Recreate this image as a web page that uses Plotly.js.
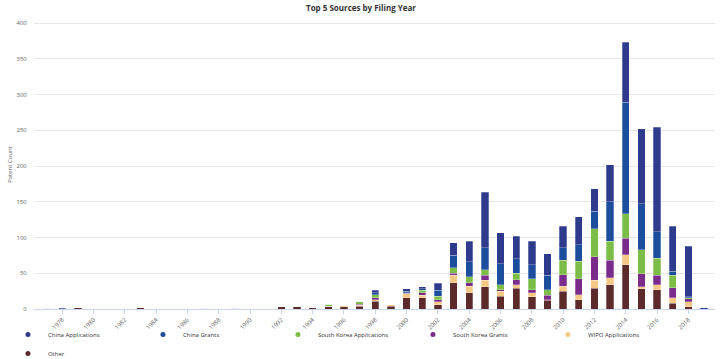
<!DOCTYPE html>
<html>
<head>
<meta charset="utf-8">
<script src="https://cdn.plot.ly/plotly-3.0.1.min.js"></script>
<style>html,body{margin:0;padding:0;background:#fff;}#chart{width:722px;height:359px;}</style>
</head>
<body>
<div id="chart"></div>
<script>
// Filing years that have at least one patent
var years = [1977,1978,1979,1983,1987,1988,1989,
  1992,1993,1994,1995,1996,1997,1998,1999,2000,2001,2002,2003,2004,2005,
  2006,2007,2008,2009,2010,2011,2012,2013,2014,2015,2016,2017,2018,2019];

var chinaApplications = [0,1,0,0,0,0,0,
  0,0,0,0,0,0,3,0,3,3,10,18,29,77,44,32,33,30,30,39,31,52,84,105,146,63,71,2];
var chinaGrants = [0,0,0,0,0,0,0,
  0,0,0,0,0,0,3,0,2,2,8,17,21,31,29,20,20,20,18,23,25,55,156,64,37,6,1,0];
var southKoreaApplications = [0,0,0,0,0,0,0,
  0,0,0,3,0,3,4,0,1,3,5,8,8,8,7,9,15,8,20,25,39,27,34,34,24,17,2,0];
var southKoreaGrants = [1,0,0,0,1,0,1,
  0,0,0,0,0,2,3,0,1,4,3,3,5,7,2,7,4,6,16,22,33,24,23,18,13,14,4,0];
var wipoApplications = [0,0,0,0,0,1,0,
  0,1,0,0,2,1,2,2,5,3,4,10,9,9,7,5,6,1,7,7,11,10,14,3,7,8,7,0];
var other = [0,0,2,2,0,0,0,
  3,3,2,4,3,4,11,4,16,16,6,37,23,31,18,29,17,12,25,13,29,34,62,28,27,8,3,0];

var seriesNames = ['Other','WIPO Applications','South Korea Grants','South Korea Applications','China Grants','China Applications'];
var seriesValues = [other, wipoApplications, southKoreaGrants, southKoreaApplications, chinaGrants, chinaApplications];
var seriesColors = ['#5d2a2c','#f6c886','#7b2b8c','#7bbd46','#1d4e9e','#2e3a8c'];

var traces = seriesNames.map(function(n, i){
  return {
    type: 'bar', name: n, x: years, y: seriesValues[i],
    marker: {color: seriesColors[i], line: {color: 'rgba(255,255,255,0.55)', width: 0.5}},
    showlegend: false, hoverinfo: 'x+y+name'
  };
});
// legend entries with circle symbols
seriesNames.forEach(function(n, i){
  traces.push({
    type: 'scatter', mode: 'markers', name: n, x: [null], y: [null],
    marker: {color: seriesColors[i], size: 5, symbol: 'circle'},
    showlegend: true, hoverinfo: 'skip'
  });
});

var layout = {
  width: 722, height: 359,
  margin: {l: 34, r: 7, t: 20, b: 50},
  paper_bgcolor: '#fff', plot_bgcolor: '#fff',
  font: {family: 'Open Sans, DejaVu Sans, sans-serif', size: 6, color: '#666'},
  title: {text: 'Top 5 Sources by Filing Year', x: 0.5, xref: 'container', xanchor: 'center',
          y: 0.978, yref: 'container', yanchor: 'middle',
          font: {size: 8, color: '#333', weight: 'bold', family: 'Open Sans, DejaVu Sans, sans-serif'}},
  barmode: 'stack',
  bargap: 0.53,
  xaxis: {
    range: [1976.2, 2019.7], tickmode: 'linear', tick0: 1978, dtick: 2,
    tickangle: -45, tickfont: {size: 6, color: '#666'},
    showgrid: false, zeroline: false,
    showline: true, linecolor: '#ccd6eb', linewidth: 1,
    ticks: 'outside', ticklen: 4, tickcolor: '#ccd6eb', automargin: false
  },
  yaxis: {
    range: [0, 404.2], tickmode: 'linear', tick0: 0, dtick: 50,
    tickfont: {size: 6, color: '#666'},
    gridcolor: '#e6e6e6', gridwidth: 1, zeroline: false, showline: false,
    ticks: 'outside', ticklen: 5, tickcolor: 'rgba(0,0,0,0)',
    title: {text: 'Patent Count', standoff: 3, font: {size: 6, color: '#666'}},
    automargin: false
  },
  legend: {
    orientation: 'h', xref: 'container', yref: 'container',
    x: 0.011, xanchor: 'left', y: 0.1086, yanchor: 'top',
    traceorder: 'reversed', entrywidth: 90, entrywidthmode: 'pixels',
    font: {size: 6, color: '#333'}, itemwidth: 30, bgcolor: 'rgba(0,0,0,0)'
  },
  showlegend: true
};

Plotly.newPlot('chart', traces, layout, {displayModeBar: false, staticPlot: true});
</script>
</body>
</html>
